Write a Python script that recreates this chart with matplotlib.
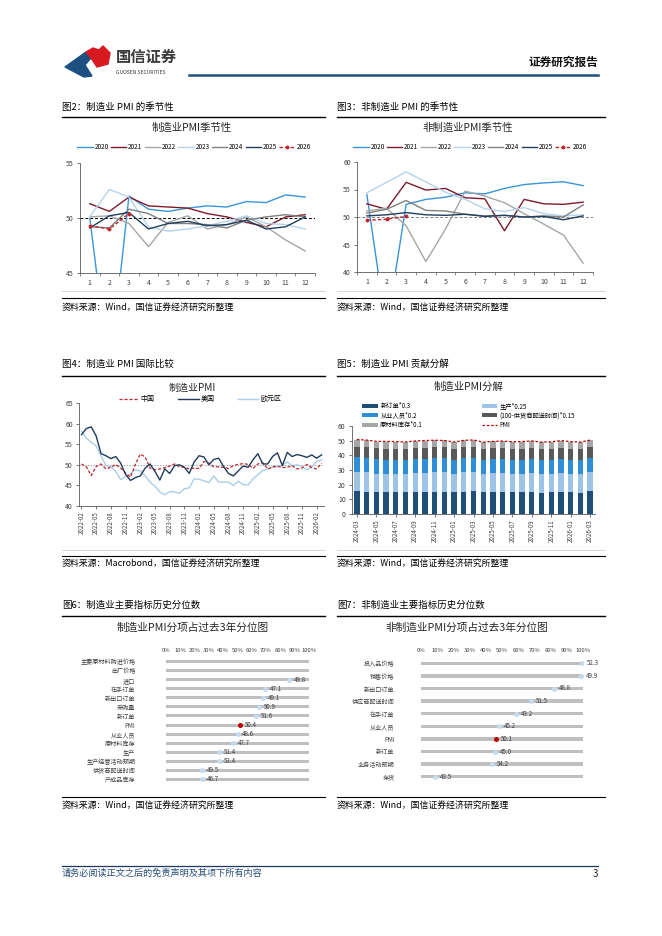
import numpy as np
import pandas as pd
import matplotlib
matplotlib.use('Agg')
import matplotlib.pyplot as plt
from matplotlib.lines import Line2D
from matplotlib.patches import Polygon

plt.rcParams['font.family'] = ['Noto Sans CJK SC', 'DejaVu Sans']
plt.rcParams['axes.unicode_minus'] = False

W, H = 662, 936

# ---------------- data ----------------
months = list(range(1, 13))

# 制造业PMI 季节性
mfg_2020 = [50.0, 35.7, 52.0, 50.8, 50.6, 50.9, 51.1, 51.0, 51.5, 51.4, 52.1, 51.9]
mfg_2021 = [51.3, 50.6, 51.9, 51.1, 51.0, 50.9, 50.4, 50.1, 49.6, 49.2, 50.1, 50.3]
mfg_2022 = [50.1, 50.2, 49.5, 47.4, 49.6, 50.2, 49.0, 49.4, 50.1, 49.2, 48.0, 47.0]
mfg_2023 = [50.1, 52.6, 51.9, 49.2, 48.8, 49.0, 49.3, 49.7, 50.2, 49.5, 49.4, 49.0]
mfg_2024 = [49.2, 49.1, 50.8, 50.4, 49.5, 49.5, 49.4, 49.1, 49.8, 50.1, 50.3, 50.1]
mfg_2025 = [49.1, 50.2, 50.5, 49.0, 49.5, 49.7, 49.3, 49.4, 49.8, 49.0, 49.2, 50.1]
mfg_2026 = [49.3, 49.0, 50.4]

# 非制造业PMI 季节性
non_2020 = [54.1, 29.6, 52.3, 53.2, 53.6, 54.4, 54.2, 55.2, 55.9, 56.2, 56.4, 55.7]
non_2021 = [52.4, 51.4, 56.3, 54.9, 55.2, 53.5, 53.3, 47.5, 53.2, 52.4, 52.3, 52.7]
non_2022 = [51.1, 51.6, 48.4, 41.9, 47.8, 54.7, 53.8, 52.6, 50.6, 48.7, 46.7, 41.6]
non_2023 = [54.4, 56.3, 58.2, 56.4, 54.5, 53.2, 51.5, 51.0, 51.7, 50.6, 50.2, 50.4]
non_2024 = [50.7, 51.4, 53.0, 51.2, 51.1, 50.5, 50.2, 50.3, 50.0, 50.2, 50.0, 52.2]
non_2025 = [50.2, 50.4, 50.8, 50.4, 50.3, 50.5, 50.1, 50.3, 50.0, 50.1, 49.5, 50.2]
non_2026 = [49.4, 49.6, 50.1]

# 制造业PMI 国际比较 (2022-02 ~ 2026-03)
intl_start = '2022-02'
cn_pmi = [50.2, 49.5, 47.4, 49.6, 50.2, 49.0, 49.4, 50.1, 49.2, 48.0, 47.0,
          50.1, 52.6, 51.9, 49.2, 48.8, 49.0, 49.3, 49.7, 50.2, 49.5, 49.4, 49.0,
          49.2, 49.1, 50.8, 50.4, 49.5, 49.5, 49.4, 49.1, 49.8, 50.1, 50.3, 50.1,
          49.1, 50.2, 50.5, 49.0, 49.5, 49.7, 49.3, 49.4, 49.8, 49.0, 49.2, 50.1,
          49.3, 49.0, 50.4]
us_pmi = [57.3, 58.8, 59.2, 57.0, 52.7, 52.2, 51.5, 52.0, 50.4, 47.7, 46.2,
          46.9, 47.3, 49.2, 50.2, 48.4, 46.3, 49.0, 47.9, 49.8, 50.0, 49.4, 47.9,
          50.7, 52.2, 51.9, 50.0, 51.3, 51.6, 49.6, 47.9, 47.3, 48.5, 49.7, 49.4,
          51.2, 52.7, 50.2, 50.2, 52.0, 52.9, 49.8, 53.0, 52.0, 52.5, 52.2, 51.8,
          52.4, 51.6, 52.4]
ez_pmi = [58.2, 56.5, 55.5, 54.6, 52.1, 49.8, 49.6, 48.4, 46.4, 47.1, 47.8,
          48.8, 48.5, 47.3, 45.8, 44.8, 43.4, 42.7, 43.5, 43.4, 43.1, 44.2, 44.4,
          46.6, 46.5, 46.1, 45.7, 47.3, 45.8, 45.8, 45.8, 45.0, 46.0, 45.2, 45.1,
          46.6, 47.6, 48.6, 49.0, 49.4, 49.5, 49.8, 50.7, 49.8, 50.0, 49.6, 48.8,
          49.5, 50.8, 51.2]

# 制造业PMI 贡献分解 (2024-03 ~ 2026-03)
dec_start = '2024-03'
new_orders = [53.0, 51.1, 49.6, 49.5, 49.3, 48.9, 49.9, 50.0, 50.8, 51.0, 49.2, 51.1, 51.8,
              49.2, 49.8, 50.2, 49.4, 49.5, 49.7, 48.8, 49.2, 50.8, 49.2, 48.6, 51.6]
production = [52.2, 52.9, 50.8, 50.6, 50.1, 49.8, 51.2, 52.0, 52.4, 52.1, 49.8, 52.5, 52.6,
              49.8, 50.7, 51.0, 50.5, 50.8, 51.9, 49.7, 50.0, 51.7, 50.6, 49.6, 51.4]
employment = [48.1, 48.0, 48.1, 48.1, 48.3, 48.1, 48.2, 48.4, 48.2, 48.1, 48.1, 48.6, 48.2,
              47.9, 48.1, 48.0, 48.0, 47.9, 48.2, 48.3, 48.4, 48.2, 48.1, 48.0, 48.6]
delivery = [50.6, 50.4, 50.2, 49.8, 49.3, 49.6, 50.7, 50.2, 50.5, 50.3, 50.0, 51.0, 50.3,
            50.2, 50.0, 50.2, 50.3, 50.5, 50.8, 50.0, 50.1, 50.2, 50.0, 49.8, 49.5]
inventory = [48.1, 47.8, 47.6, 47.6, 47.8, 47.6, 47.5, 47.9, 48.2, 48.3, 47.4, 49.0, 47.2,
             47.3, 47.4, 48.0, 48.0, 48.0, 48.5, 47.3, 47.4, 47.8, 47.6, 47.5, 47.7]
pmi_dec = [50.8, 50.4, 49.5, 49.5, 49.4, 49.1, 49.8, 50.1, 50.3, 50.1, 49.1, 50.2, 50.5,
           49.0, 49.5, 49.7, 49.3, 49.4, 49.8, 49.0, 49.2, 50.1, 49.3, 49.0, 50.4]

# 分位数
mfg_items = ['主要原材料购进价格', '出厂价格', '进口', '在手订单', '新出口订单', '采购量', '新订单',
             'PMI', '从业人员', '原材料库存', '生产', '生产经营活动预期', '供货商配送时间', '产成品库存']
mfg_pct = [np.nan, np.nan, 86, 69, 67.5, 65, 63, 52, 50, 47, 37, 37, 25, 25]
mfg_val = [np.nan, np.nan, 49.8, 47.1, 49.1, 50.9, 51.6, 50.4, 48.6, 47.7, 51.4, 53.4, 49.5, 46.7]

non_items = ['投入品价格', '销售价格', '新出口订单', '供应商配送时间', '在手订单', '从业人员',
             'PMI', '新订单', '业务活动预期', '存货']
non_pct = [99.5, 98.5, 82, 68, 58.5, 48, 46, 45.5, 44, 8.5]
non_val = [52.3, 49.9, 48.8, 51.5, 43.2, 45.2, 50.1, 45.0, 54.2, 43.5]

# ---------------- helpers ----------------
fig = plt.figure(figsize=(W / 100, H / 100), dpi=100)


def fx(x):
    return x / W


def fy(y):
    return 1 - y / H


def box(l, t, w, h):
    return [l / W, 1 - (t + h) / H, w / W, h / H]


def txt(x, y, s, **kw):
    kw.setdefault('va', 'center')
    fig.text(fx(x), fy(y), s, **kw)


def hline(x0, x1, y, **kw):
    fig.add_artist(Line2D([fx(x0), fx(x1)], [fy(y), fy(y)], transform=fig.transFigure, **kw))


def style_axes(ax):
    for s in ['top', 'right']:
        ax.spines[s].set_visible(False)
    for s in ['left', 'bottom']:
        ax.spines[s].set_color('#595959')
        ax.spines[s].set_linewidth(0.6)
    ax.tick_params(labelsize=5, colors='#404040', width=0.5, length=2.5, pad=2)


season_colors = ['#3a95d8', '#7b1c2c', '#a6a6a6', '#b4d3ec', '#808080', '#203f5e', '#c0272d']
season_years = ['2020', '2021', '2022', '2023', '2024', '2025', '2026']


def seasonal(ax, series, ylim, yticks, ref_color):
    for yr, vals, c in zip(season_years, series, season_colors):
        if yr == '2026':
            ax.plot(months[:len(vals)], vals, color=c, lw=1.0, ls=(0, (2.5, 1.5)),
                    marker='o', ms=1.8, label=yr, zorder=4)
        else:
            ax.plot(months[:len(vals)], vals, color=c, lw=1.0, label=yr)
    ax.axhline(50, color=ref_color, lw=0.7, ls=(0, (3, 2)), zorder=1)
    ax.set_xlim(0.5, 12.5)
    ax.set_ylim(*ylim)
    ax.set_yticks(yticks)
    ax.set_xticks(months)
    ax.set_xticks(np.arange(0.5, 13, 1), minor=True)
    style_axes(ax)
    ax.tick_params(axis='x', which='major', length=0, pad=4)
    ax.tick_params(axis='x', which='minor', length=2.5, width=0.5, colors='#595959')


def percentile(ax, items, pct, vals, bar_h):
    y = np.arange(len(items))
    ax.barh(y, [100] * len(items), height=bar_h, color='#bfbfbf', zorder=1)
    for i in range(len(items)):
        if np.isnan(pct[i]):
            continue
        c = '#c00000' if items[i] == 'PMI' else '#c5dcf0'
        ax.scatter(pct[i], i, s=13, color=c, zorder=3, linewidths=0)
        ax.annotate(f'{vals[i]:.1f}', (pct[i], i), xytext=(3.5, 0), textcoords='offset points',
                    va='center', ha='left', fontsize=4.5, color='#404040', zorder=4)
    ax.set_xlim(0, 100)
    ax.set_ylim(len(items) - 0.5, -0.5)
    ax.set_yticks(y, items)
    ax.set_xticks(range(0, 101, 10), [f'{t}%' for t in range(0, 101, 10)])
    ax.xaxis.tick_top()
    for s in ax.spines.values():
        s.set_visible(False)
    ax.tick_params(axis='both', length=0, colors='#404040')
    ax.tick_params(axis='x', labelsize=4.2, pad=3)
    ax.tick_params(axis='y', labelsize=4.4)


# ---------------- header ----------------
fig.add_artist(Polygon([(fx(65), fy(67)), (fx(86), fy(52)), (fx(91), fy(58)), (fx(85), fy(65)),
                        (fx(92), fy(76)), (fx(84), fy(77))], closed=True,
                       transform=fig.transFigure, color='#1d4f80'))
fig.add_artist(Polygon([(fx(86), fy(52)), (fx(93), fy(48)), (fx(99), fy(50)), (fx(103), fy(46)),
                        (fx(110), fy(53)), (fx(108), fy(64)), (fx(97), fy(67)), (fx(91), fy(58))],
                       closed=True, transform=fig.transFigure, color='#d71920'))
txt(116, 57, '国信证券', fontsize=11, weight='bold', color='#3a3a3a')
txt(116, 72, 'GUOSEN SECURITIES', fontsize=3.6, color='#3a3a3a')
txt(598, 62, '证券研究报告', fontsize=8.4, weight='bold', ha='right', color='#111111')
hline(189, 598, 75, color='#1d4f80', lw=1.8)

# ---------------- titles / sources ----------------
for x0, x1, t in [(62, 325, '图2：制造业 PMI 的季节性'), (337, 605, '图3：非制造业 PMI 的季节性')]:
    txt(x0, 107, t, fontsize=6.8)
    hline(x0, x1, 117, color='black', lw=1.0)
    hline(x0, x1, 291, color='#d0d0d0', lw=0.6)
    hline(x0, x1, 298, color='black', lw=0.8)
    txt(x0, 308, '资料来源：Wind，国信证券经济研究所整理', fontsize=6.4)

for x0, x1, t, src in [(62, 325, '图4：制造业 PMI 国际比较', '资料来源：Macrobond，国信证券经济研究所整理'),
                       (337, 605, '图5：制造业 PMI 贡献分解', '资料来源：Wind，国信证券经济研究所整理')]:
    txt(x0, 364, t, fontsize=6.8)
    hline(x0, x1, 376, color='black', lw=1.0)
    hline(x0, x1, 550, color='#d0d0d0', lw=0.6)
    hline(x0, x1, 556, color='black', lw=0.8)
    txt(x0, 564, src, fontsize=6.4)

for x0, x1, t in [(62, 325, '图6：制造业主要指标历史分位数'), (337, 605, '图7：非制造业主要指标历史分位数')]:
    txt(x0, 605, t, fontsize=6.8)
    hline(x0, x1, 616, color='black', lw=1.0)
    hline(x0, x1, 797, color='black', lw=0.8)
    txt(x0, 806, '资料来源：Wind，国信证券经济研究所整理', fontsize=6.4)

# ---------------- chart 2 ----------------
txt(192, 128, '制造业PMI季节性', fontsize=7.5, ha='center', color='#262626')
ax2 = fig.add_axes(box(80, 163, 235, 110))
seasonal(ax2, [mfg_2020, mfg_2021, mfg_2022, mfg_2023, mfg_2024, mfg_2025, mfg_2026],
         (45, 55), [45, 50, 55], 'black')
ax2.legend(loc='center', bbox_to_anchor=(fx(194), fy(147)), bbox_transform=fig.transFigure,
           ncol=7, fontsize=4.6, frameon=False, handlelength=2.4, handletextpad=0.3,
           columnspacing=0.35, borderpad=0)

# ---------------- chart 3 ----------------
txt(468, 128, '非制造业PMI季节性', fontsize=7.5, ha='center', color='#262626')
ax3 = fig.add_axes(box(357, 162, 236, 110))
seasonal(ax3, [non_2020, non_2021, non_2022, non_2023, non_2024, non_2025, non_2026],
         (40, 60), [40, 45, 50, 55, 60], '#7f7f7f')
ax3.legend(loc='center', bbox_to_anchor=(fx(470), fy(147)), bbox_transform=fig.transFigure,
           ncol=7, fontsize=4.6, frameon=False, handlelength=2.4, handletextpad=0.3,
           columnspacing=0.35, borderpad=0)

# ---------------- chart 4 ----------------
txt(192, 388, '制造业PMI', fontsize=7.2, ha='center', color='#262626')
ax4 = fig.add_axes(box(79, 403, 245, 103))
intl_labels = pd.period_range(intl_start, periods=len(cn_pmi), freq='M').strftime('%Y-%m')
x4 = np.arange(len(cn_pmi))
ax4.plot(x4, cn_pmi, color='#c0272d', lw=0.9, ls=(0, (2.5, 1.5)), label='中国', zorder=3)
ax4.plot(x4, us_pmi, color='#1f3b5a', lw=1.0, label='美国', zorder=4)
ax4.plot(x4, ez_pmi, color='#a9cde9', lw=1.0, label='欧元区', zorder=2)
ax4.axhline(50, color='#7f7f7f', lw=0.5, ls=(0, (2, 2)), zorder=1)
ax4.set_xlim(-0.5, len(cn_pmi) - 0.5)
ax4.set_ylim(40, 65)
ax4.set_yticks(range(40, 66, 5))
ax4.set_xticks(x4[::3], intl_labels[::3], rotation=90)
style_axes(ax4)
ax4.tick_params(axis='x', labelsize=4.4, length=2)
ax4.legend(loc='center', bbox_to_anchor=(fx(200), fy(399)), bbox_transform=fig.transFigure,
           ncol=3, fontsize=5, frameon=False, handlelength=2.9, handletextpad=0.3,
           columnspacing=3.4, borderpad=0)

# ---------------- chart 5 ----------------
txt(468, 387, '制造业PMI分解', fontsize=7.5, ha='center', color='#262626')
ax5 = fig.add_axes(box(352, 426, 243, 88))
dec_labels = pd.period_range(dec_start, periods=len(pmi_dec), freq='M').strftime('%Y-%m')
x5 = np.arange(len(pmi_dec))
parts = [
    (np.array(new_orders) * 0.3, '#1f4e79', '新订单*0.3'),
    (np.array(production) * 0.25, '#9dc3e6', '生产*0.25'),
    (np.array(employment) * 0.2, '#2e8fd8', '从业人员*0.2'),
    ((100 - np.array(delivery)) * 0.15, '#595959', '(100-供货商配送时间)*0.15'),
    (np.array(inventory) * 0.1, '#a6a6a6', '原材料库存*0.1'),
]
bottom = np.zeros(len(x5))
handles = {}
for h, c, lab in parts:
    handles[lab] = ax5.bar(x5, h, bottom=bottom, width=0.55, color=c, label=lab)
    bottom = bottom + h
handles['PMI'], = ax5.plot(x5, pmi_dec, color='#c00000', lw=0.9, ls=(0, (2, 1.5)), label='PMI')
ax5.set_xlim(-0.5, len(x5) - 0.5)
ax5.set_ylim(0, 60)
ax5.set_yticks(range(0, 61, 10))
ax5.set_xticks(x5[::2], dec_labels[::2], rotation=90)
style_axes(ax5)
ax5.tick_params(axis='x', labelsize=4.4, length=2)
order = ['新订单*0.3', '从业人员*0.2', '原材料库存*0.1', '生产*0.25', '(100-供货商配送时间)*0.15', 'PMI']
ax5.legend([handles[k] for k in order], order, loc='upper left',
           bbox_to_anchor=(fx(359), fy(399)), bbox_transform=fig.transFigure,
           ncol=2, fontsize=4.5, frameon=False, handlelength=2.5, handleheight=0.6,
           handletextpad=0.4, columnspacing=9.4, labelspacing=0.22, borderpad=0)

# ---------------- chart 6 ----------------
txt(193, 628, '制造业PMI分项占过去3年分位图', fontsize=7.7, ha='center', color='#262626')
ax6 = fig.add_axes(box(166, 657, 143, 127))
percentile(ax6, mfg_items, mfg_pct, mfg_val, 0.33)
ax6.tick_params(axis='y', pad=22)

# ---------------- chart 7 ----------------
txt(467, 628, '非制造业PMI分项占过去3年分位图', fontsize=7.7, ha='center', color='#262626')
ax7 = fig.add_axes(box(421, 657, 162, 126))
percentile(ax7, non_items, non_pct, non_val, 0.28)
ax7.tick_params(axis='y', pad=19)

# ---------------- footer ----------------
hline(62, 598, 866, color='#1f3a5f', lw=0.9)
txt(62, 873, '请务必阅读正文之后的免责声明及其项下所有内容', fontsize=6.6, color='#2a4f7a')
txt(598, 874, '3', fontsize=7, ha='right', color='#222222')

fig.savefig('out.png', dpi=100)
